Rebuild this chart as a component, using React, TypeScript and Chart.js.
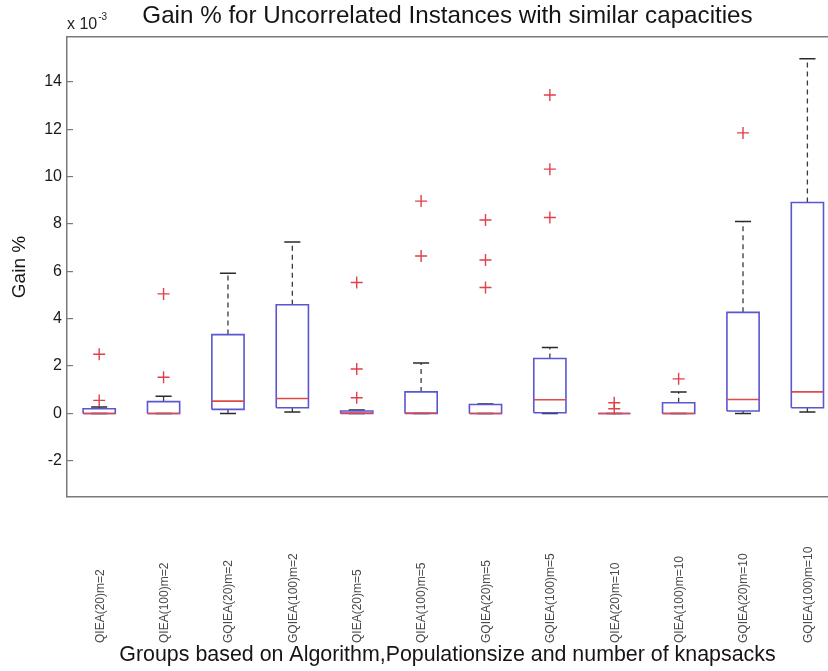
import React, { useEffect, useRef } from 'react';
import { Chart, registerables } from 'chart.js';

Chart.register(...registerables);

// Values are shown in units of 1e-3 (axis multiplier "x 10^-3")
const categories = [
  'QIEA(20)m=2', 'QIEA(100)m=2', 'GQIEA(20)m=2', 'GQIEA(100)m=2',
  'QIEA(20)m=5', 'QIEA(100)m=5', 'GQIEA(20)m=5', 'GQIEA(100)m=5',
  'QIEA(20)m=10', 'QIEA(100)m=10', 'GQIEA(20)m=10', 'GQIEA(100)m=10',
];
const q1 = [0, 0, 0.17, 0.24, 0, 0, 0, 0.03, 0, 0, 0.1, 0.24];
const medians = [0, 0, 0.52, 0.63, 0.02, 0.02, 0, 0.58, 0, 0, 0.59, 0.91];
const q3 = [0.2, 0.5, 3.33, 4.59, 0.1, 0.91, 0.38, 2.32, 0, 0.45, 4.27, 8.91];
const whiskerLow = [0, 0, 0, 0.06, 0, 0, 0, 0, 0, 0, 0, 0.06];
const whiskerHigh = [0.27, 0.73, 5.92, 7.24, 0.14, 2.13, 0.4, 2.79, 0, 0.91, 8.11, 14.98];
const outliers = [
  [2.5, 0.55],
  [5.05, 1.53],
  [],
  [],
  [5.53, 1.88, 0.66],
  [8.97, 6.65],
  [8.17, 6.48, 5.32],
  [13.45, 10.32, 8.28],
  [0.45, 0.2],
  [1.46],
  [11.85],
  [],
];
const yTicks = [-2, 0, 2, 4, 6, 8, 10, 12, 14];

const TITLE = 'Gain % for Uncorrelated Instances with similar capacities';
const X_TITLE = 'Groups based on Algorithm,Populationsize and number of knapsacks';
const Y_TITLE = 'Gain %';

const FONT = '"Liberation Sans", Arial, Helvetica, sans-serif';
const HALF_BOX = 0.25;
const HALF_CAP = 0.125;

type P = { x: number; y: number | null };

function boxData(): P[] {
  const out: P[] = [];
  categories.forEach((_, i) => {
    const c = i + 1;
    out.push({ x: c - HALF_BOX, y: q1[i] }, { x: c + HALF_BOX, y: q1[i] },
      { x: c + HALF_BOX, y: q3[i] }, { x: c - HALF_BOX, y: q3[i] },
      { x: c - HALF_BOX, y: q1[i] }, { x: c, y: null });
  });
  return out;
}
function medianData(): P[] {
  const out: P[] = [];
  categories.forEach((_, i) => {
    const c = i + 1;
    out.push({ x: c - HALF_BOX, y: medians[i] }, { x: c + HALF_BOX, y: medians[i] }, { x: c, y: null });
  });
  return out;
}
function whiskerData(): P[] {
  const out: P[] = [];
  categories.forEach((_, i) => {
    const c = i + 1;
    out.push({ x: c, y: q3[i] }, { x: c, y: whiskerHigh[i] }, { x: c, y: null },
      { x: c, y: q1[i] }, { x: c, y: whiskerLow[i] }, { x: c, y: null });
  });
  return out;
}
function capData(): P[] {
  const out: P[] = [];
  categories.forEach((_, i) => {
    const c = i + 1;
    out.push({ x: c - HALF_CAP, y: whiskerHigh[i] }, { x: c + HALF_CAP, y: whiskerHigh[i] }, { x: c, y: null },
      { x: c - HALF_CAP, y: whiskerLow[i] }, { x: c + HALF_CAP, y: whiskerLow[i] }, { x: c, y: null });
  });
  return out;
}
function outlierData(): P[] {
  const out: P[] = [];
  outliers.forEach((vals, i) => vals.forEach((v) => out.push({ x: i + 1, y: v })));
  return out;
}

const annotPlugin = {
  id: 'annot',
  afterDraw(chart: any) {
    const ctx = chart.ctx as CanvasRenderingContext2D;
    const xs = chart.scales.x;
    const area = chart.chartArea;
    ctx.save();
    ctx.fillStyle = '#4a4a4a';
    ctx.font = `12px ${FONT}`;
    ctx.textAlign = 'left';
    ctx.textBaseline = 'middle';
    categories.forEach((lab, i) => {
      const px = xs.getPixelForValue(i + 1);
      ctx.save();
      ctx.translate(px + 1, area.bottom + 146);
      ctx.rotate(-Math.PI / 2);
      ctx.fillText(lab, 0, 0);
      ctx.restore();
    });
    ctx.fillStyle = '#222';
    ctx.textBaseline = 'alphabetic';
    ctx.font = `16px ${FONT}`;
    const base = 'x 10';
    ctx.fillText(base, area.left, 29);
    const w = ctx.measureText(base).width;
    ctx.font = `10px ${FONT}`;
    ctx.fillText('-3', area.left + w + 1, 20);
    ctx.restore();
  },
};

export default function App() {
  const ref = useRef<HTMLCanvasElement | null>(null);
  useEffect(() => {
    if (!ref.current) return;
    const line = {
      type: 'scatter' as const,
      showLine: true,
      pointRadius: 0,
      pointHoverRadius: 0,
      spanGaps: false,
      fill: false,
    };
    const chart = new Chart(ref.current, {
      type: 'scatter',
      data: {
        datasets: [
          { ...line, label: 'whiskers', data: whiskerData() as any, borderColor: '#3a3a3a', borderWidth: 1.3, borderDash: [5, 4], order: 5 },
          { ...line, label: 'caps', data: capData() as any, borderColor: '#2a2a2a', borderWidth: 1.5, order: 4 },
          { ...line, label: 'boxes', data: boxData() as any, borderColor: '#5a55d2', borderWidth: 1.6, order: 3 },
          { ...line, label: 'medians', data: medianData() as any, borderColor: '#e04a4a', borderWidth: 1.6, order: 2 },
          {
            type: 'scatter', label: 'outliers', data: outlierData() as any, showLine: false,
            pointStyle: 'cross', pointRadius: 6, pointBorderWidth: 1.4, borderColor: '#e0404a',
            pointBorderColor: '#e0404a', backgroundColor: '#e0404a', order: 1,
          },
        ],
      },
      options: {
        responsive: false,
        animation: false,
        layout: { padding: 0, autoPadding: false },
        plugins: {
          legend: { display: false },
          tooltip: { enabled: false },
          title: {
            display: true,
            text: TITLE,
            fullSize: false,
            color: '#151515',
            font: { family: FONT, size: 24.2, weight: 'normal' },
            padding: { top: 2, bottom: 6 },
          },
        },
        scales: {
          x: {
            type: 'linear',
            position: 'bottom',
            min: 0.5,
            max: 12.32,
            ticks: { display: false },
            grid: { display: true, drawOnChartArea: false, drawTicks: false },
            border: { display: true, color: '#7a7a7a', width: 1.5 },
            title: {
              display: true,
              text: X_TITLE,
              color: '#151515',
              font: { family: FONT, size: 21.4, weight: 'normal' },
              padding: { top: 0, bottom: 3 },
            },
            afterFit: (s: any) => { s.height = 174; },
          },
          x2: {
            type: 'linear',
            position: 'top',
            min: 0.5,
            max: 12.32,
            ticks: { display: false },
            grid: { display: true, drawOnChartArea: false, drawTicks: false },
            border: { display: true, color: '#7a7a7a', width: 1.5 },
            afterFit: (s: any) => { s.height = 0; },
          },
          y: {
            type: 'linear',
            position: 'left',
            min: -3.53,
            max: 15.9,
            afterBuildTicks: (s: any) => { s.ticks = yTicks.map((v) => ({ value: v })); },
            ticks: {
              color: '#1a1a1a',
              font: { family: FONT, size: 16, weight: 'normal' },
              padding: 11,
            },
            grid: { display: true, drawOnChartArea: false, drawTicks: true, tickLength: -6, color: '#7a7a7a', lineWidth: 1.2 },
            border: { display: true, color: '#7a7a7a', width: 1.5 },
            title: {
              display: true,
              text: Y_TITLE,
              color: '#151515',
              font: { family: FONT, size: 19, weight: 'normal' },
              padding: { top: 8.5, bottom: 0 },
            },
            afterFit: (s: any) => { s.width = 67; },
          },
        },
      } as any,
      plugins: [annotPlugin],
    });
    return () => chart.destroy();
  }, []);
  return (
    <div style={{ position: 'absolute', left: 0, top: 0, width: 828, height: 671, overflow: 'hidden', background: '#fff' }}>
      <canvas ref={ref} width={828} height={671} style={{ display: 'block' }} />
    </div>
  );
}
